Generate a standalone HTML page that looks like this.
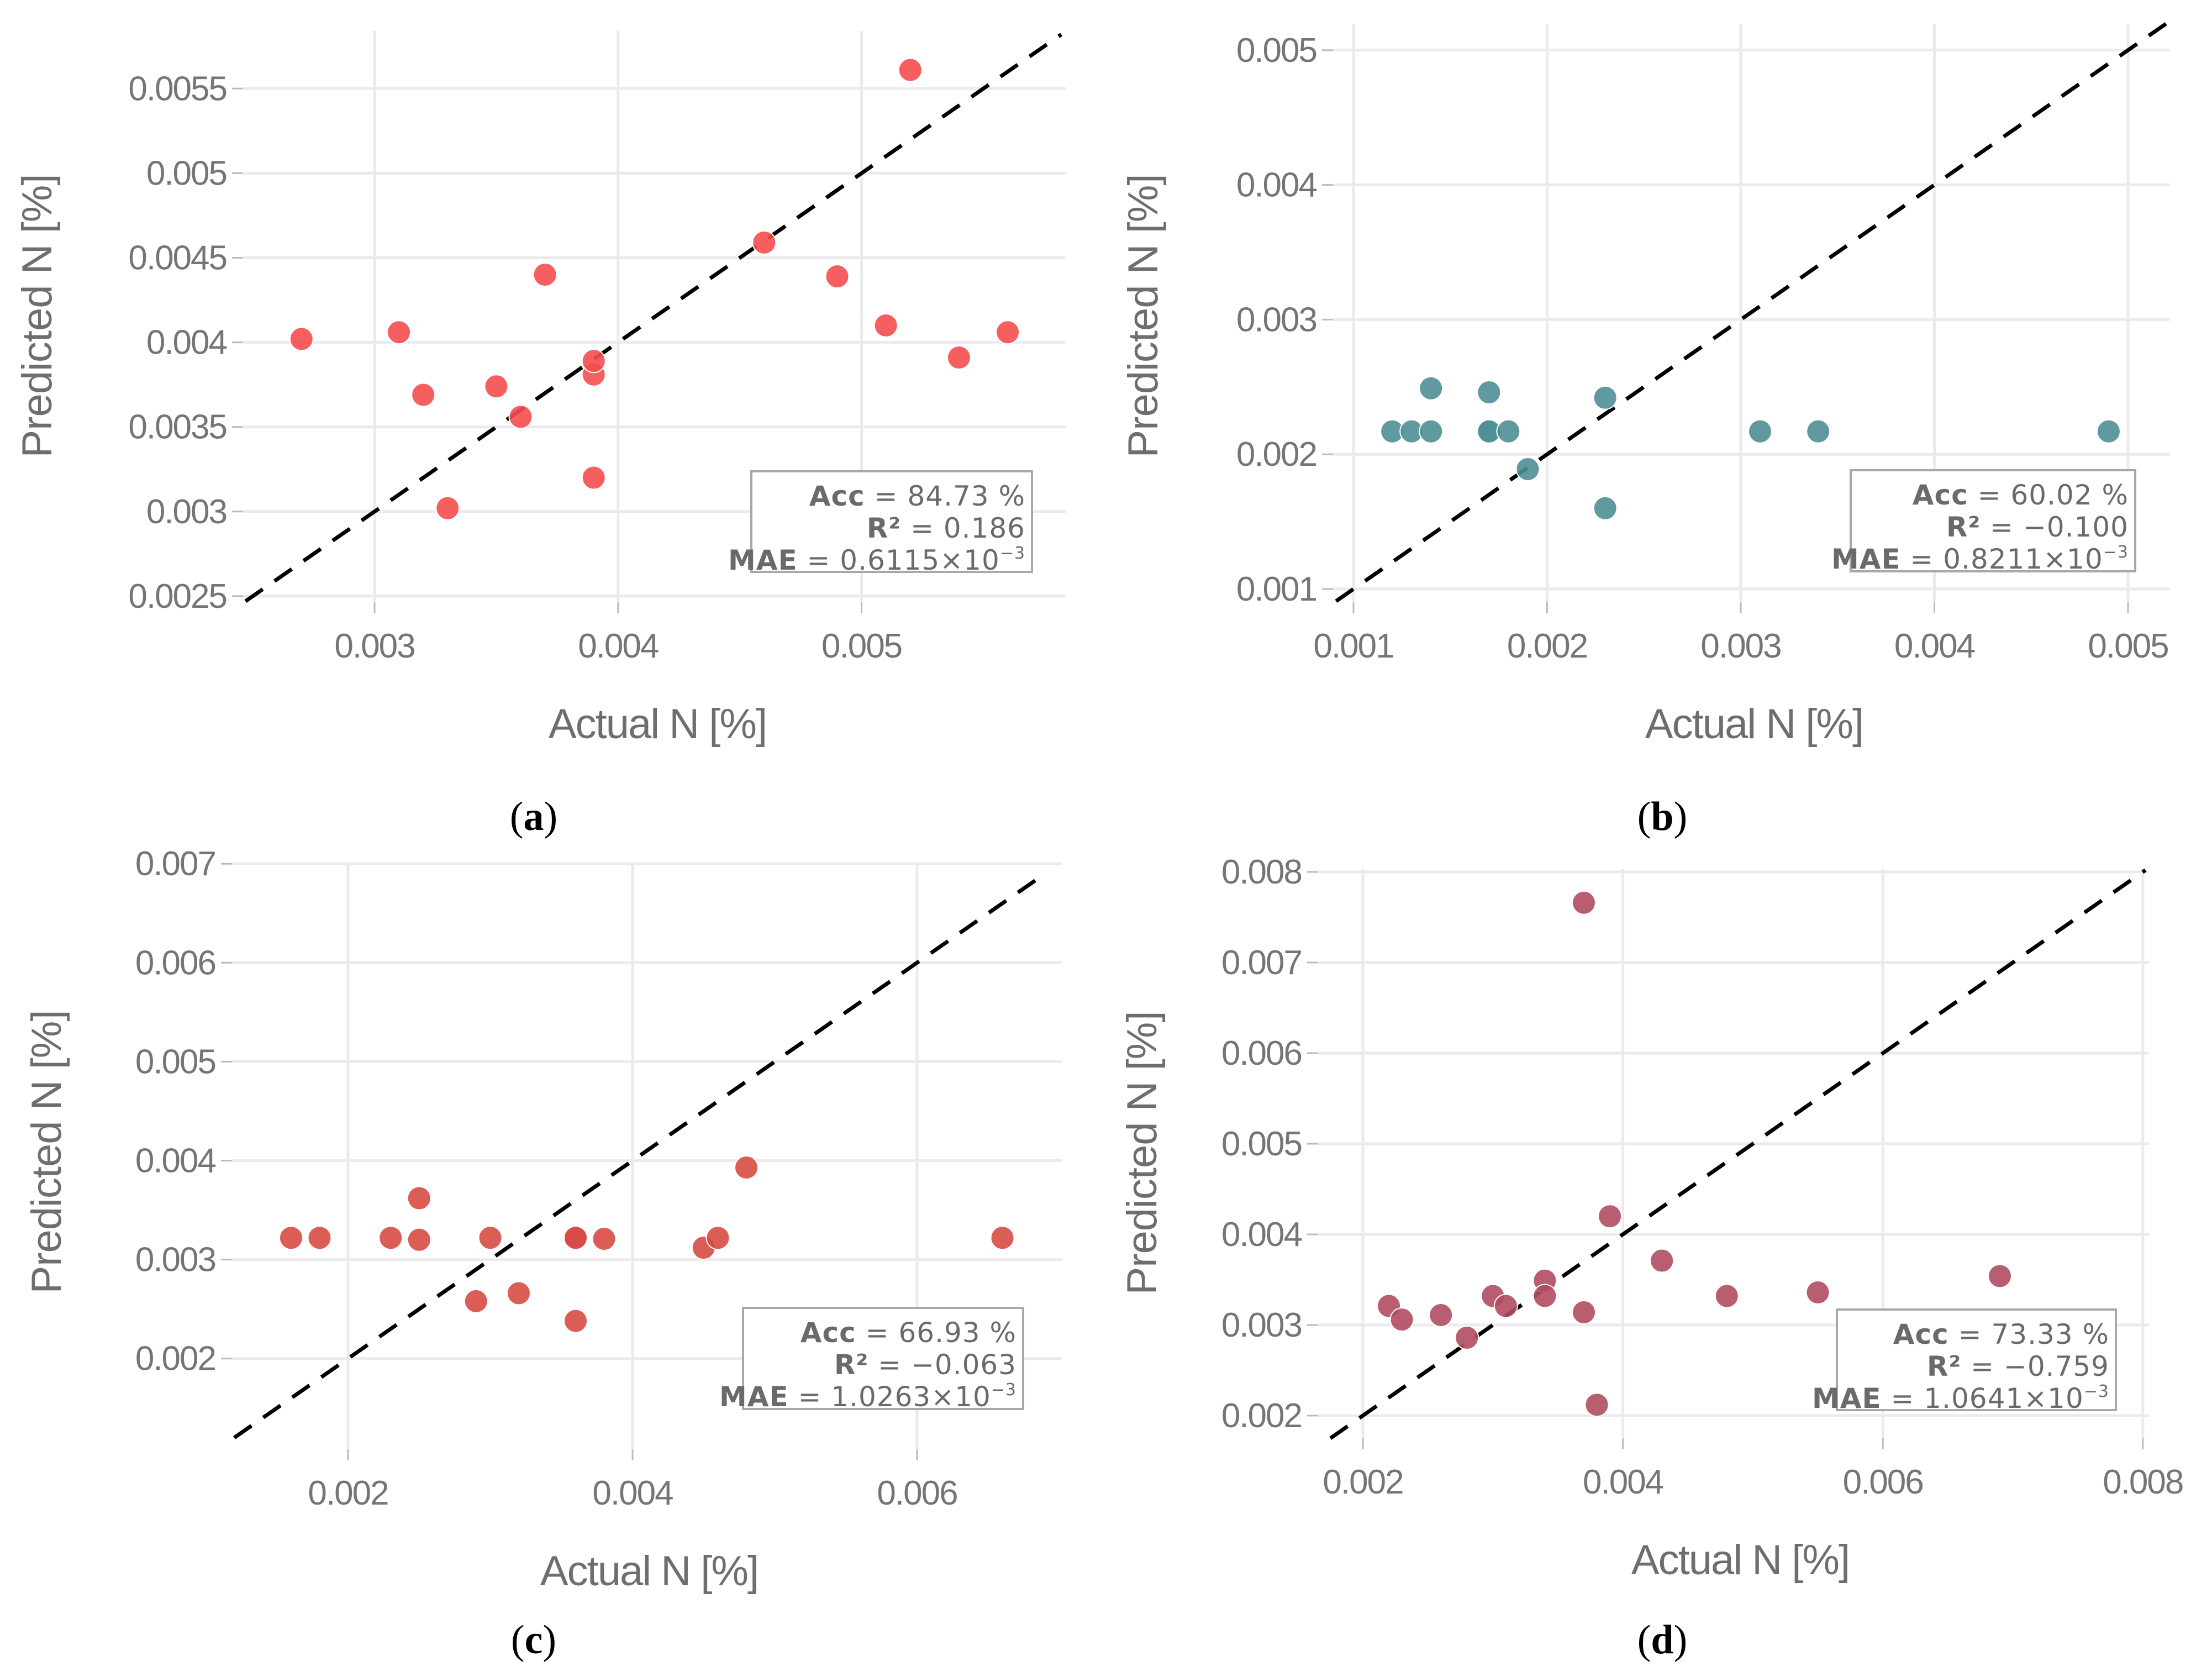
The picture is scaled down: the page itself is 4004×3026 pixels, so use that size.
<!DOCTYPE html>
<html><head><meta charset="utf-8"><style>
html,body{margin:0;padding:0;background:#fff;}
svg{display:block;}
</style></head><body>
<svg id="fig" xmlns="http://www.w3.org/2000/svg" width="4004" height="3026" viewBox="0 0 4004 3026"></svg>
<script>
// ---- data ----
const aActual = [0.0027,0.0031,0.0032,0.0033,0.0035,0.0036,0.0037,0.0039,0.0039,0.0039,0.0046,0.0049,0.0051,0.0052,0.0054,0.0056];
const aPred   = [0.00402,0.00406,0.00369,0.00302,0.00374,0.00356,0.00440,0.00320,0.00381,0.00389,0.00459,0.00439,0.00410,0.00561,0.00391,0.00406];
const aXTicks = [0.003,0.004,0.005];
const aYTicks = [0.0025,0.003,0.0035,0.004,0.0045,0.005,0.0055];
const aXLabels = ["0.003","0.004","0.005"];
const aYLabels = ["0.0025","0.003","0.0035","0.004","0.0045","0.005","0.0055"];
const aStats = ["84.73 %","0.186","0.6115"];

const bActual = [0.0012,0.0013,0.0014,0.0014,0.0017,0.0017,0.0017,0.0018,0.0019,0.0023,0.0023,0.0031,0.0034,0.0049];
const bPred   = [0.00217,0.00217,0.00217,0.00249,0.00246,0.00217,0.00217,0.00217,0.00189,0.00242,0.00160,0.00217,0.00217,0.00217];
const bXTicks = [0.001,0.002,0.003,0.004,0.005];
const bYTicks = [0.001,0.002,0.003,0.004,0.005];
const bXLabels = ["0.001","0.002","0.003","0.004","0.005"];
const bYLabels = ["0.001","0.002","0.003","0.004","0.005"];
const bStats = ["60.02 %","\u22120.100","0.8211"];

const cActual = [0.0016,0.0018,0.0023,0.0025,0.0025,0.0030,0.0029,0.0032,0.0036,0.0036,0.0036,0.0038,0.0045,0.0046,0.0048,0.0066];
const cPred   = [0.00322,0.00322,0.00322,0.00362,0.00320,0.00322,0.00258,0.00266,0.00238,0.00322,0.00322,0.00321,0.00312,0.00322,0.00393,0.00322];
const cXTicks = [0.002,0.004,0.006];
const cYTicks = [0.002,0.003,0.004,0.005,0.006,0.007];
const cXLabels = ["0.002","0.004","0.006"];
const cYLabels = ["0.002","0.003","0.004","0.005","0.006","0.007"];
const cStats = ["66.93 %","\u22120.063","1.0263"];

const dActual = [0.0022,0.0023,0.0026,0.0028,0.0030,0.0031,0.0034,0.0034,0.0037,0.0037,0.0038,0.0039,0.0043,0.0048,0.0055,0.0069];
const dPred   = [0.00321,0.00306,0.00311,0.00286,0.00332,0.00321,0.00349,0.00332,0.00766,0.00314,0.00212,0.00420,0.00371,0.00332,0.00336,0.00354];
const dXTicks = [0.002,0.004,0.006,0.008];
const dYTicks = [0.002,0.003,0.004,0.005,0.006,0.007,0.008];
const dXLabels = ["0.002","0.004","0.006","0.008"];
const dYLabels = ["0.002","0.003","0.004","0.005","0.006","0.007","0.008"];
const dStats = ["73.33 %","\u22120.759","1.0641"];

const NS = "http://www.w3.org/2000/svg";
const svg = document.getElementById('fig');
function mk(tag, attrs, parent, text){
  const e = document.createElementNS(NS, tag);
  for (const k in attrs) e.setAttribute(k, attrs[k]);
  if (text !== undefined) e.textContent = text;
  (parent||svg).appendChild(e);
  return e;
}

function panel(cfg){
  const g = mk('g', {});
  
  
  const sx = v => cfg.x0 + (v - cfg.xv0) * cfg.kx;
  const sy = v => cfg.y0 - (v - cfg.yv0) * cfg.ky;
  cfg.yTicks.forEach((t,i) => {
    const gl = mk('line', {x1:cfg.L, x2:cfg.R, y1:sy(t), y2:sy(t), stroke:'#ebebeb', 'stroke-width':5}, g);
    
    
    mk('line', {x1:cfg.L-20, x2:cfg.L, y1:sy(t), y2:sy(t), stroke:'#bbbbbb', 'stroke-width':3}, g);
    const tl = mk('text', {x:cfg.L-30, y:sy(t)+21, 'text-anchor':'end', 'font-family':'Liberation Sans, sans-serif', 'font-size':62, fill:'#757575', 'letter-spacing':'-2'}, g, cfg.yLabels[i]);
    
    
  });
  cfg.xTicks.forEach((t,i) => {
    const gl = mk('line', {x1:sx(t), x2:sx(t), y1:cfg.T, y2:cfg.B, stroke:'#ebebeb', 'stroke-width':5}, g);
    
    
    mk('line', {x1:sx(t), x2:sx(t), y1:cfg.B, y2:cfg.B+20, stroke:'#bbbbbb', 'stroke-width':3}, g);
    const tl = mk('text', {x:sx(t), y:cfg.B+100, 'text-anchor':'middle', 'font-family':'Liberation Sans, sans-serif', 'font-size':62, fill:'#757575', 'letter-spacing':'-2'}, g, cfg.xLabels[i]);
    
    
  });
  const dl = mk('line', {x1:sx(cfg.d0), y1:sy(cfg.d0), x2:sx(cfg.d1), y2:sy(cfg.d1), stroke:'#000', 'stroke-width':7, 'stroke-dasharray':'38 26'}, g);
  
  
  cfg.xs.forEach((v,i) => {
    const c = mk('circle', {cx:sx(v), cy:sy(cfg.ys[i]), r:21, fill:cfg.color, 'fill-opacity':0.9, stroke:'#fff', 'stroke-width':2}, g);
    
    
  });
  const xt = mk('text', {x:cfg.xtX, y:cfg.B+246, 'text-anchor':'middle', 'font-family':'Liberation Sans, sans-serif', 'font-size':76, fill:'#6e6e6e', 'letter-spacing':'-2'}, g, 'Actual N [%]');
  
  
  const yt = mk('text', {x:0, y:0, transform:`translate(${cfg.ytX+26},${cfg.ytY}) rotate(-90)`, 'text-anchor':'middle', 'font-family':'Liberation Sans, sans-serif', 'font-size':76, fill:'#6e6e6e', 'letter-spacing':'-1'}, g, 'Predicted N [%]');
  
  
  const bx = cfg.box;
  const r = mk('rect', {x:bx[0], y:bx[1], width:bx[2]-bx[0], height:bx[3]-bx[1], fill:'#fff', stroke:'#a8a8a8', 'stroke-width':4}, g);
  
  
  const tx = bx[2]-12, fs = 50, ff = 'DejaVu Sans, sans-serif';
  const lines = [
    [['Acc',700],[' = '+cfg.stats[0],400]],
    [['R\u00b2',700],['  = '+cfg.stats[1],400]],
    [['MAE',700],[' = '+cfg.stats[2]+'\u00d710',400],['\u22123',400,true]]
  ];
  const names = ['accuracy-stat','r2-stat','mae-stat'];
  lines.forEach((ln,j) => {
    const t = mk('text', {x:tx, y:bx[1]+62+j*58, 'text-anchor':'end', 'font-family':ff, 'font-size':fs, fill:'#6a6a6a', 'letter-spacing':'1'}, g);
    
    
    ln.forEach(p => {
      const s = mk('tspan', {'font-weight':p[1]}, t, p[0]);
      if (p[2]) { s.setAttribute('font-size', 30); s.setAttribute('dy', -20); }
    });
  });
  const cap = mk('text', {x:cfg.capX, y:cfg.capY, 'text-anchor':'middle', 'font-family':'Liberation Serif, serif', 'font-size':74, fill:'#000'}, g);
  
  
  mk('tspan', {}, cap, '(');
  mk('tspan', {'font-weight':700}, cap, cfg.id);
  mk('tspan', {}, cap, ')');
}

panel({id:'a', xs:aActual, ys:aPred, xTicks:aXTicks, yTicks:aYTicks, xLabels:aXLabels, yLabels:aYLabels, stats:aStats,
  color:'#f44e4e', x0:678, xv0:0.003, kx:440800, y0:1078.9, yv0:0.0025, ky:306200,
  L:440, R:1929, T:56, B:1090, d0:0.00247, d1:0.00582, xtX:1190, ytX:67, ytY:572, box:[1360,853,1868,1035], capX:966, capY:1502});
panel({id:'b', xs:bActual, ys:bPred, xTicks:bXTicks, yTicks:bYTicks, xLabels:bXLabels, yLabels:bYLabels, stats:bStats,
  color:'#4f8f96', x0:2450, xv0:0.001, kx:350500, y0:1066, yv0:0.001, ky:243800,
  L:2413, R:3928, T:43, B:1090, d0:0.00091, d1:0.00522, xtX:3175, ytX:2069, ytY:572, box:[3350,851,3865,1034], capX:3009, capY:1502});
panel({id:'c', xs:cActual, ys:cPred, xTicks:cXTicks, yTicks:cYTicks, xLabels:cXLabels, yLabels:cYLabels, stats:cStats,
  color:'#d84a44', x0:630, xv0:0.002, kx:257500, y0:2458.7, yv0:0.002, ky:179100,
  L:420, R:1922, T:1563, B:2623, d0:0.0012, d1:0.0069, xtX:1175, ytX:84, ytY:2085, box:[1345,2367,1852,2550], capX:966, capY:2992});
panel({id:'d', xs:dActual, ys:dPred, xTicks:dXTicks, yTicks:dYTicks, xLabels:dXLabels, yLabels:dYLabels, stats:dStats,
  color:'#b04c60', x0:2467, xv0:0.002, kx:235300, y0:2562, yv0:0.002, ky:164000,
  L:2386, R:3890, T:1573, B:2603, d0:0.00175, d1:0.00802, xtX:3150, ytX:2067, ytY:2087, box:[3325,2370,3830,2552], capX:3009, capY:2992});
</script>
</body></html>
